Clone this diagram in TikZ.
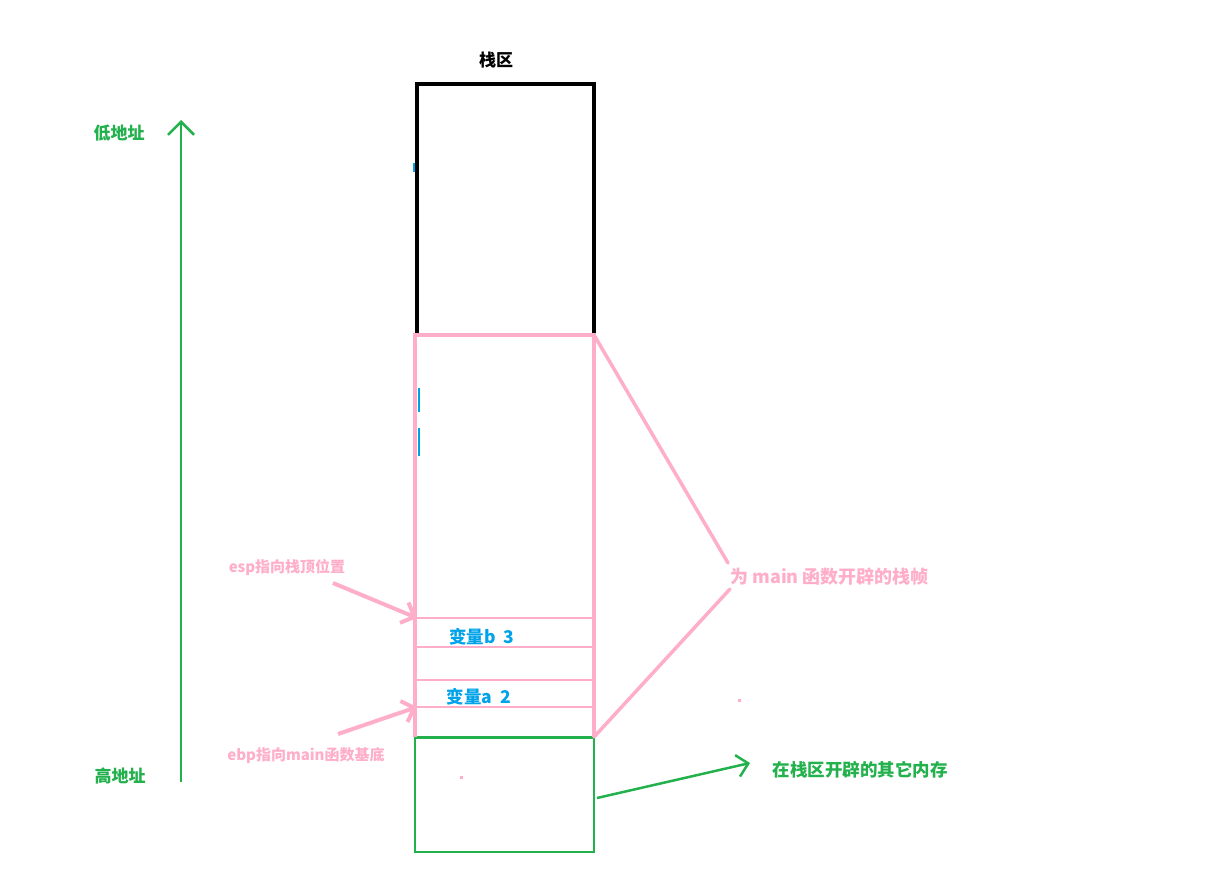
\documentclass[tikz,border=0pt]{standalone}
\usepackage{fontspec}
\setmainfont{Noto Sans CJK SC}
\usetikzlibrary{arrows.meta}
\definecolor{framepink}{HTML}{FFAEC9}
\definecolor{memgreen}{HTML}{22B14C}
\definecolor{varblue}{HTML}{00A2E8}

\begin{document}
\begin{tikzpicture}[x=1pt,y=-1pt,line width=0.5pt,
  txt/.style={inner sep=0pt,font=\bfseries\fontsize{#1}{#1}\selectfont},
  txt/.default=17,
  barb/.style={-{Straight Barb[length=#1,width=2*#1]}},
  cellline/.style={framepink,line width=2pt}]
  \useasboundingbox (0,0) rectangle (1221,869);

  % stack outline
  \coordinate (sTL) at (417,84);
  \coordinate (sTR) at (594,84);
  \coordinate (fTL) at (415,335);
  \coordinate (fTR) at (594,335);
  \coordinate (fBL) at (415,737);
  \coordinate (fBR) at (594,737);
  \coordinate (gBL) at (415,852);
  \coordinate (gBR) at (594,852);
  \draw[line width=3.8pt] (417,333) -- (sTL) -- (sTR) -- (594,333);
  \node[txt] (stack) at (496,60) {栈区};

  % frame of main
  \draw[memgreen,line width=2.5pt] (fBL) -- (gBL) -- (gBR) -- (fBR);
  \draw[memgreen,line width=3pt] (fBL) -- (fBR);
  \draw[framepink,line width=4pt] (fBL) -- (fTL) -- (fTR) -- (fBR);
  \foreach \y/\nm in {618/c1,647/c2,680/c3,707/c4}{
    \coordinate (\nm L) at (417,\y);
    \coordinate (\nm R) at (592,\y);
    \draw[cellline] (\nm L) -- (\nm R);
  }
  \node[txt=17.5,text=varblue] (varb) at (482,637) {变量b\ \ 3};
  \node[txt=17.5,text=varblue] (vara) at (479,697) {变量a\ \ 2};

  % stray marks
  \draw[varblue,line width=2pt] (419,388) -- (419,412);
  \draw[varblue,line width=2pt] (419,428) -- (419,456);
  \draw[varblue,line width=1.5pt] (414,163) -- (414,172);
  \fill[framepink] (460,776) rectangle (463,779);
  \fill[framepink] (738,699) rectangle (741,702);

  % addresses
  \coordinate (high) at (181,782);
  \coordinate (low) at (181,120);
  \draw[memgreen,line width=2.5pt,barb=13pt] (high) -- (low);
  \node[txt,text=memgreen] (lowaddr) at (119,133) {低地址};
  \node[txt,text=memgreen] (highaddr) at (120,776) {高地址};

  % pointers
  \node[txt=15,text=framepink] (esp) at (287,567) {esp指向栈顶位置};
  \node[txt=15,text=framepink] (ebp) at (306,756) {ebp指向main函数基底};
  \coordinate (espFrom) at (333,583);
  \coordinate (ebpFrom) at (338,734);
  \draw[framepink,line width=4pt,barb=11pt] (espFrom) -- (c1L);
  \draw[framepink,line width=4pt,barb=11pt] (ebpFrom) -- (c4L);

  % stack frame brace
  \node[txt=18,text=framepink,anchor=west] (frame) at (730,577) {为 main 函数开辟的栈帧};
  \coordinate (brUp) at (728,563);
  \coordinate (brDn) at (730,589);
  \draw[framepink,line width=3.5pt,line cap=round] (fTR) -- (brUp);
  \draw[framepink,line width=3.5pt,line cap=round] (fBR) -- (brDn);

  % other memory
  \node[txt=17.5,text=memgreen] (other) at (860,770) {在栈区开辟的其它内存};
  \coordinate (oFrom) at (597,798);
  \coordinate (oTo) at (750,763);
  \draw[memgreen,line width=2.5pt,barb=11pt] (oFrom) -- (oTo);
\end{tikzpicture}
\end{document}
